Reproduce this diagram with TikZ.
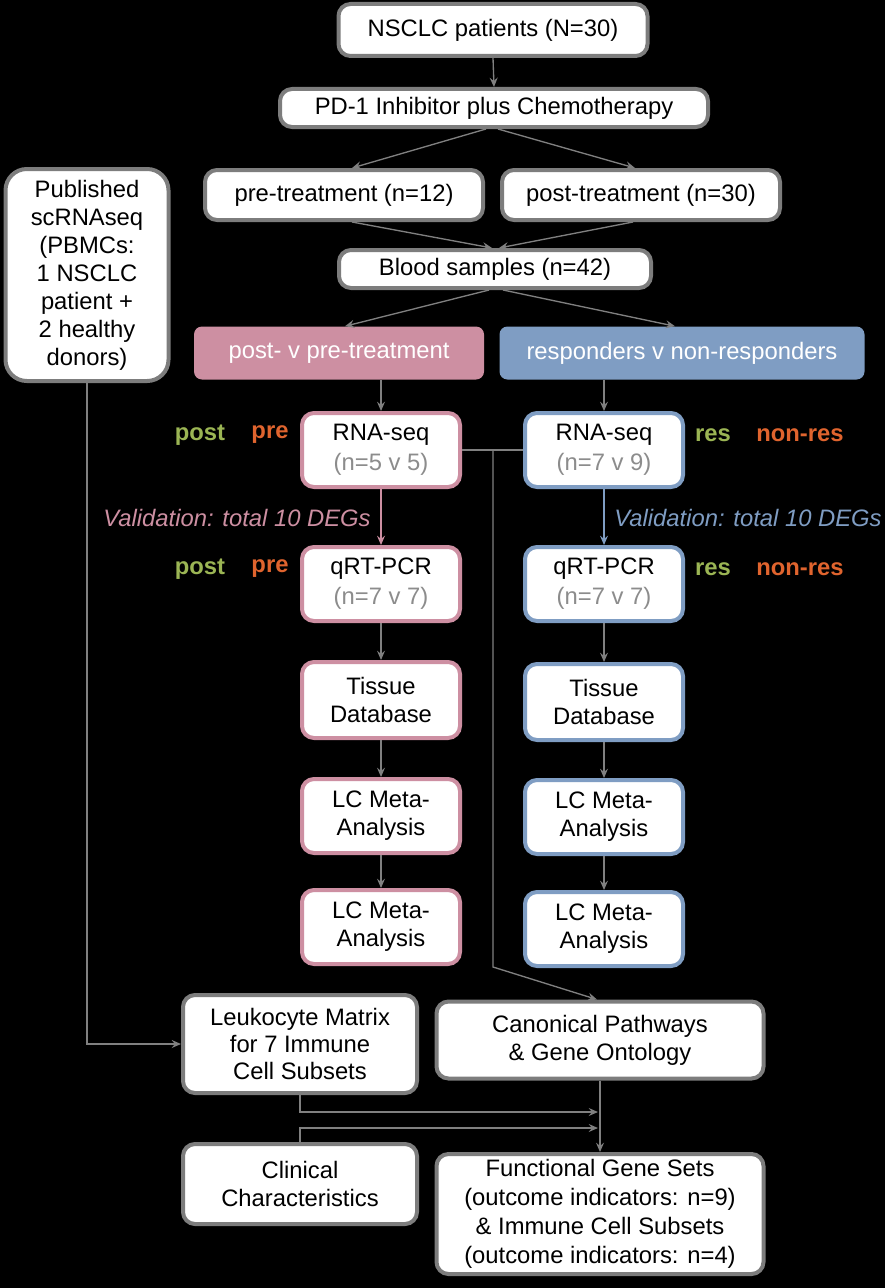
\documentclass[tikz,border=0pt]{standalone}
\usepackage{fontspec}
\setmainfont{Liberation Sans}
\usetikzlibrary{arrows.meta,calc}
\definecolor{bgray}{RGB}{125,125,125}
\definecolor{lgray}{RGB}{128,128,128}
\definecolor{pinkc}{RGB}{205,143,162}
\definecolor{bluec}{RGB}{127,157,195}
\definecolor{greenc}{RGB}{155,181,84}
\definecolor{orangec}{RGB}{224,100,46}
\definecolor{ngray}{RGB}{140,140,140}
\begin{document}
\begin{tikzpicture}[x=0.75pt,y=-0.75pt,
  every node/.style={font=\fontsize{17.85}{21}\selectfont, inner sep=0pt, align=center},
  sz/.style 2 args={minimum width=#1*0.75pt, minimum height=#2*0.75pt},
  box/.style={draw=bgray, line width=3pt, fill=white, rounded corners=9pt},
  pbox/.style={draw=pinkc, line width=3pt, fill=white, rounded corners=9pt},
  bbox/.style={draw=bluec, line width=3pt, fill=white, rounded corners=9pt},
  catp/.style={fill=pinkc, text=white, rounded corners=6pt},
  catb/.style={fill=bluec, text=white, rounded corners=6pt},
  arr/.style={draw=lgray, line width=1pt, -{Stealth[length=7pt,width=6pt,inset=2.5pt]}},
  ln/.style={draw=lgray, line width=1pt},
  lab/.style={font=\fontsize{17.85}{21}\selectfont\bfseries},
  val/.style={font=\fontsize{17.85}{21}\selectfont\itshape},
  wide/.style={font=\fontsize{17.85}{22.5}\selectfont}
]
\fill[black] (0,0) rectangle (885,1288);
\useasboundingbox (0,0) rectangle (885,1288);

% top chain
\node[box, sz={309}{52}] (nsclc) at (493,30) {NSCLC patients (N=30)};
\node[box, sz={428}{38}] (pd1) at (494,108) {PD-1 Inhibitor plus Chemotherapy};
\node[box, sz={278}{50}] (pre) at (344,195) {pre-treatment (n=12)};
\node[box, sz={278}{50}] (post) at (641,195) {post-treatment (n=30)};
\node[box, sz={312}{38}] (blood) at (495,269) {Blood samples (n=42)};
\node[catp, sz={290}{53}] (pvp) at (339,353) {post- v pre-treatment};
\node[catb, sz={365}{53}] (rvn) at (682,353) {responders v non-responders};

% published
\node[box, rounded corners=16pt, sz={163}{212}] (pub) at (87,275)
  {Published\\scRNAseq\\(PBMCs:\\1 NSCLC\\patient +\\2 healthy\\donors)};

% pink column
\node[pbox, wide, sz={158}{74}] (rnaP) at (381,450) {RNA-seq\\{\color{ngray}(n=5 v 5)}};
\node[pbox, wide, sz={158}{74}] (qP) at (381,584) {qRT-PCR\\{\color{ngray}(n=7 v 7)}};
\node[pbox, sz={158}{76}] (tisP) at (381,700) {Tissue\\Database};
\node[pbox, sz={158}{74}] (lc1P) at (381,816) {LC Meta-\\Analysis};
\node[pbox, sz={158}{74}] (lc2P) at (381,927) {LC Meta-\\Analysis};

% blue column
\node[bbox, wide, sz={158}{74}] (rnaB) at (604,450) {RNA-seq\\{\color{ngray}(n=7 v 9)}};
\node[bbox, wide, sz={158}{74}] (qB) at (604,584) {qRT-PCR\\{\color{ngray}(n=7 v 7)}};
\node[bbox, sz={158}{76}] (tisB) at (604,702) {Tissue\\Database};
\node[bbox, sz={158}{74}] (lc1B) at (604,817) {LC Meta-\\Analysis};
\node[bbox, sz={158}{74}] (lc2B) at (604,929) {LC Meta-\\Analysis};

% bottom
\node[box, sz={234}{98}, font=\fontsize{17.85}{20.5}\selectfont] (leuk) at (300,1044) {Leukocyte Matrix\\for 7 Immune\\Cell Subsets};
\node[box, sz={327}{77}] (canon) at (600,1040) {Canonical Pathways\\\& Gene Ontology};
\node[box, sz={234}{80}] (clin) at (300,1184) {Clinical\\Characteristics};
\node[box, sz={327}{120}, font=\fontsize{17.85}{21.75}\selectfont] (func) at (600,1214) {Functional Gene Sets\\(outcome indicators: n=9)\\\& Immune Cell Subsets\\(outcome indicators: n=4)};

% labels
\node[lab, text=greenc] (l1) at (200,435) {post};
\node[lab, text=orangec] (l2) at (270,435) {pre};
\node[lab, text=greenc] (l3) at (200,569) {post};
\node[lab, text=orangec] (l4) at (270,569) {pre};
\node[lab, text=greenc] (l5) at (713,435) {res};
\node[lab, text=orangec] (l6) at (800,435) {non-res};
\node[lab, text=greenc] (l7) at (713,569) {res};
\node[lab, text=orangec] (l8) at (800,569) {non-res};
\node[val, text=pinkc] (v1) at (237,518) {Validation: total 10 DEGs};
\node[val, text=bluec] (v2) at (748,518) {Validation: total 10 DEGs};

% connectors
\draw[arr] (nsclc.south) -- (pd1.north);
\draw[arr] ($(pd1.south)+(-8,0)$) -- ($(pre.north)+(8,0)$);
\draw[arr] ($(pd1.south)+(4,0)$) -- ($(post.north)+(-6,0)$);
\draw[arr] ($(pre.south)+(8,0)$) -- ($(blood.north)+(-3,0)$);
\draw[arr] ($(post.south)+(-8,0)$) -- ($(blood.north)+(4,0)$);
\draw[arr] ($(blood.south)+(-6,0)$) -- ($(pvp.north)+(6,0)$);
\draw[arr] ($(blood.south)+(8,0)$) -- ($(rvn.north)+(-7,0)$);
\draw[arr] (rnaP.north |- pvp.south) -- (rnaP.north);
\draw[arr] (rnaB.north |- rvn.south) -- (rnaB.north);
\draw[arr, draw=pinkc] (rnaP.south) -- (qP.north);
\draw[arr, draw=bluec] (rnaB.south) -- (qB.north);
\draw[arr] (qP) -- (tisP);
\draw[arr] (tisP) -- (lc1P);
\draw[arr] (lc1P) -- (lc2P);
\draw[arr] (qB) -- (tisB);
\draw[arr] (tisB) -- (lc1B);
\draw[arr] (lc1B) -- (lc2B);

\coordinate (j1) at (493,450);
\coordinate (j2) at (493,967);
\draw[ln] (rnaP.east) -- (rnaB.west);
\draw[arr] (j1) -- (j2) -- ($(canon.north)+(-3,0)$);

\draw[arr] (pub.south) |- (leuk.west);
\coordinate (m1) at (598,1112);
\coordinate (m2) at (598,1128);
\draw[arr] (leuk.south) |- (m1);
\draw[arr] (clin.north) |- (m2);
\draw[arr] (canon.south) -- (func.north);
\end{tikzpicture}
\end{document}
